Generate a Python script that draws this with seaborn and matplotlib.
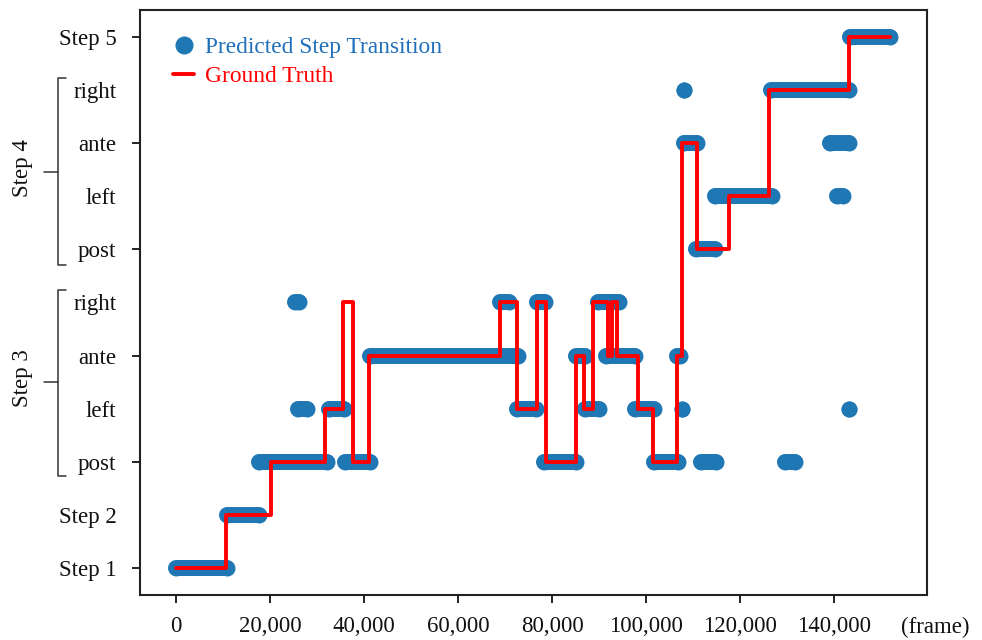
import numpy as np
import pandas as pd
import matplotlib
matplotlib.use("Agg")
import matplotlib.pyplot as plt
import matplotlib.transforms as mtransforms
from matplotlib.lines import Line2D
import seaborn as sns

# ---------------- data ----------------
level_labels = ["Step 1", "Step 2", "post", "left", "ante", "right",
                "post", "left", "ante", "right", "Step 5"]
x_ticks = [0, 20000, 40000, 60000, 80000, 100000, 120000, 140000]
x_tick_labels = ["0", "20,000", "40,000", "60,000", "80,000", "100,000",
                 "120,000", "140,000"]

# ground truth: frame at which each label starts, and its level
gt_frame = [0, 10600, 20200, 31700, 35600, 37700, 41100, 68900, 72500, 76800,
            78700, 85000, 86800, 88800, 91900, 92800, 93800, 98300, 101400,
            106600, 107600, 110900, 117700, 126100, 143200, 151900]
gt_level = [0, 1, 2, 3, 5, 2, 4, 5, 3, 5,
            2, 4, 3, 5, 4, 5, 4, 3, 2,
            4, 8, 6, 7, 9, 10, 10]

# predicted step transitions: runs of consecutive predictions
pred_start = [0, 10900, 17700, 36000, 25300, 26000, 32500, 41300, 68900, 72500,
              76800, 78300, 85100, 87000, 89800, 91500, 97700, 101700, 106600,
              107600, 108000, 108000, 110600, 111700, 114700, 126600, 129600,
              139100, 140600, 143200, 143400]
pred_end = [10900, 17700, 32100, 41300, 26200, 27900, 35700, 72800, 70900, 76600,
            78500, 85100, 87000, 90000, 94300, 97700, 101700, 106800, 107200,
            107600, 108000, 110900, 114700, 114900, 126800, 143200, 131700,
            143200, 141900, 143200, 151900]
pred_level = [0, 1, 2, 2, 5, 3, 3, 4, 5, 3,
              5, 2, 4, 3, 5, 4, 3, 2, 4,
              3, 9, 8, 6, 2, 7, 9, 2,
              8, 7, 3, 10]

BLUE = "#1f77b4"
RED = "#ff0000"

sns.set_style("ticks")
plt.rcParams["font.family"] = ["Liberation Serif", "DejaVu Serif"]
plt.rcParams["font.size"] = 16.5

fig = plt.figure(figsize=(9.82, 6.40), dpi=100)
ax = fig.add_axes([0.1426, 0.0703, 0.8014, 0.9141])

# predicted runs as long form table
rows = []
for i, (s, e, l) in enumerate(zip(pred_start, pred_end, pred_level)):
    rows.append({"frame": s, "level": l, "seg": i})
    rows.append({"frame": e, "level": l, "seg": i})
pred_df = pd.DataFrame(rows)

sns.lineplot(data=pred_df, x="frame", y="level", units="seg", estimator=None,
             sort=False, color=BLUE, lw=11.5, solid_capstyle="round",
             legend=False, ax=ax, zorder=2)
sns.scatterplot(data=pred_df, x="frame", y="level", color=BLUE, s=132,
                linewidth=0, legend=False, ax=ax, zorder=2)

gt_df = pd.DataFrame({"frame": gt_frame, "level": gt_level})
sns.lineplot(data=gt_df, x="frame", y="level", color=RED, lw=2.8,
             drawstyle="steps-post", estimator=None, sort=False,
             legend=False, ax=ax, zorder=3)

# axes
ax.set_xlim(-7700, 159800)
ax.set_ylim(-0.51, 10.51)
ax.set_xticks(x_ticks)
ax.set_xticklabels(x_tick_labels)
ax.set_yticks(range(len(level_labels)))
ax.set_yticklabels(level_labels)
ax.set_xlabel("")
ax.set_ylabel("")
for i, t in enumerate(ax.yaxis.get_major_ticks()):
    if i % 2 == 1:
        t.tick1line.set_visible(False)
ax.tick_params(axis="both", direction="out", length=6, width=1.4,
               color="#222222", labelsize=16.5, labelcolor="#111111")
ax.tick_params(axis="x", pad=9)
ax.tick_params(axis="y", pad=11)
for sp in ax.spines.values():
    sp.set_visible(True)
    sp.set_linewidth(1.5)
    sp.set_color("#222222")

ax.text(0.967, -0.0555, "(frame)", transform=ax.transAxes, ha="left",
        va="center", fontsize=16.5, color="#111111")

# brackets for Step 3 / Step 4 groups
trans = mtransforms.blended_transform_factory(ax.transAxes, ax.transData)
def bracket(top, bottom, mid, label):
    xv, xt, xn = -0.1042, -0.094, -0.122
    ln = Line2D([xt, xv, xv, xt], [top, top, bottom, bottom], transform=trans,
                color="#333333", lw=1.1, clip_on=False)
    ax.add_line(ln)
    ln2 = Line2D([xv, xn], [mid, mid], transform=trans, color="#333333",
                 lw=1.1, clip_on=False)
    ax.add_line(ln2)
    ax.text(-0.149, mid + 0.08, label, transform=trans, rotation=90,
            ha="center", va="center", fontsize=16.5, color="#111111")

bracket(9.23, 5.71, 7.46, "Step 4")
bracket(5.24, 1.73, 3.50, "Step 3")

# legend
handles = [Line2D([], [], marker="o", linestyle="", color=BLUE, markersize=13,
                  markeredgewidth=0),
           Line2D([], [], color=RED, lw=2.8)]
ax.legend(handles, ["Predicted Step Transition", "Ground Truth"],
          loc="upper left", bbox_to_anchor=(0.036, 0.962), frameon=False,
          fontsize=16.8, handlelength=0.9, handletextpad=0.45,
          labelspacing=0.33, borderaxespad=0, borderpad=0.2,
          labelcolor=["#1f6fba", RED])

fig.savefig("out.png", dpi=100)
